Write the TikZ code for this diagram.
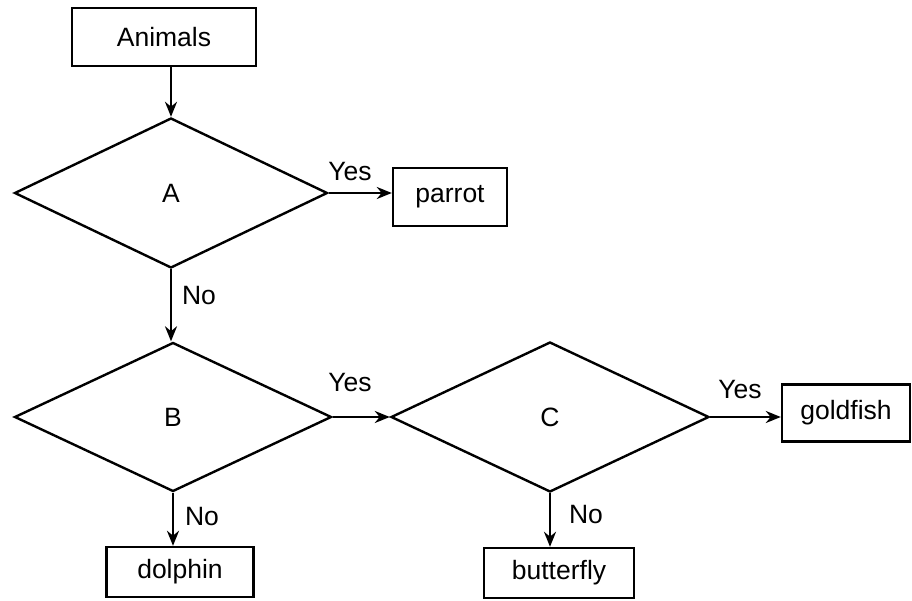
\documentclass[tikz,border=0pt]{standalone}
\usepackage{fontspec}
\setmainfont{Liberation Sans}
\usetikzlibrary{shapes.geometric,arrows.meta}
\begin{document}
\begin{tikzpicture}[x=1pt,y=-1pt,
  every node/.style={font=\fontsize{26.5}{31}\selectfont},
  box/.style={draw,line width=2.4pt,rectangle,inner sep=0pt},
  decision/.style={draw,line width=2.4pt,diamond,inner sep=0pt},
  flow/.style={line width=2.4pt,-{Stealth[length=15pt,width=12pt]}},
  lbl/.style={inner sep=0pt}]
\useasboundingbox (0,0) rectangle (912,601);
\node[box,minimum width=184pt,minimum height=58pt] (animals) at (164,37) {Animals};
\node[decision,minimum width=313pt,minimum height=150pt] (A) at (171,193) {A};
\node[box,minimum width=114pt,minimum height=58pt] (parrot) at (450,197) {parrot};
\node[decision,minimum width=317pt,minimum height=149pt] (B) at (173,417) {B};
\node[decision,minimum width=318pt,minimum height=150pt] (C) at (550,417) {C};
\node[box,minimum width=128pt,minimum height=57pt] (goldfish) at (846,413) {goldfish};
\node[box,minimum width=147pt,minimum height=50pt] (dolphin) at (180,572) {dolphin};
\node[box,minimum width=150pt,minimum height=50pt] (butterfly) at (559,573) {butterfly};

\draw[flow] (animals.south -| A.north) -- (A.north);
\draw[flow] (A.east) -- (A.east -| parrot.west);
\draw[flow] (A.south) -- (A.south |- B.north);
\draw[flow] (B.east) -- (C.west);
\draw[flow] (C.east) -- (C.east -| goldfish.west);
\draw[flow] (B.south) -- (B.south |- dolphin.north);
\draw[flow] (C.south) -- (C.south |- butterfly.north);

\node[lbl] (yesA) at (350,172) {Yes};
\node[lbl] (noA) at (199,296) {No};
\node[lbl] (yesB) at (350,383) {Yes};
\node[lbl] (yesC) at (740,390) {Yes};
\node[lbl] (noB) at (202,517) {No};
\node[lbl] (noC) at (586,515) {No};
\end{tikzpicture}
\end{document}
